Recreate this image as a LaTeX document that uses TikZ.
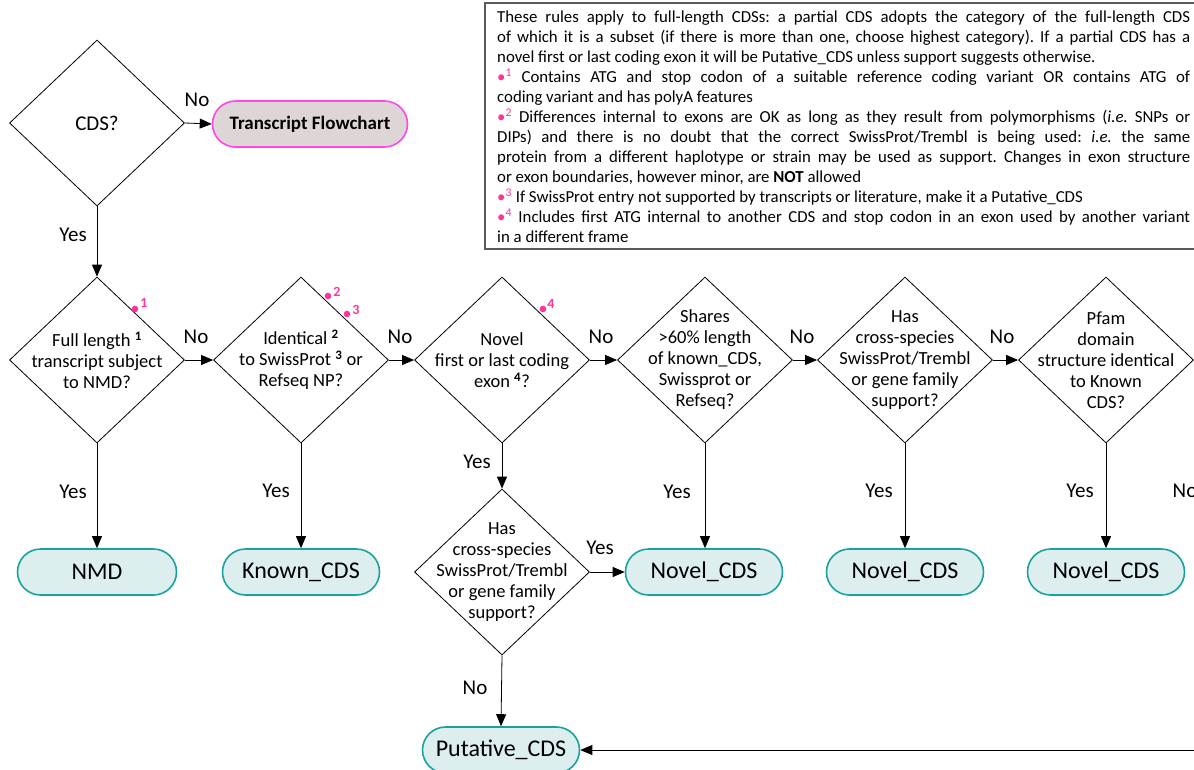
\documentclass[tikz,border=0pt]{standalone}
\usepackage{fontspec}
\setmainfont{Carlito}
\usetikzlibrary{shapes.geometric,shapes.misc,arrows.meta}

\definecolor{tealline}{RGB}{26,163,158}
\definecolor{tealfill}{RGB}{221,238,238}
\definecolor{magline}{RGB}{255,70,230}
\definecolor{greyfill}{RGB}{222,214,214}
\definecolor{hotpink}{RGB}{255,51,153}
\definecolor{boxline}{RGB}{90,90,90}

% one fully justified line of the notes
\newcommand\jline[1]{\makebox[693pt][s]{#1}}
% pink footnote marker used in the notes
\newcommand\fnmark[1]{{\color{hotpink}\textbullet\textsuperscript{#1}}}
% black superscript reference inside a decision
\newcommand\fnref[1]{\textsuperscript{\textbf{#1}}}

\begin{document}
\frenchspacing
\begin{tikzpicture}[x=1pt,y=-1pt,
  dia/.style={shape=diamond, draw=black, line width=0.8pt, minimum width=175pt,
              minimum height=166pt, inner sep=0pt},
  dtext/.style={align=center, inner sep=0pt, font=\fontsize{18.5}{21}\selectfont},
  pill/.style={rounded rectangle, draw=tealline, fill=tealfill, line width=1.6pt,
               minimum width=157pt, minimum height=46pt, inner sep=0pt,
               font=\fontsize{24}{28}\selectfont},
  tpill/.style={rounded rectangle, draw=magline, fill=greyfill, line width=1.6pt,
               minimum width=195pt, minimum height=46pt, inner sep=0pt,
               font=\fontsize{19}{22}\selectfont\bfseries},
  lbl/.style={inner sep=0pt, font=\fontsize{21}{24}\selectfont},
  arr/.style={-{Triangle[length=12pt,width=10pt]}, line width=0.8pt},
  mknum/.style={inner sep=0pt, text=hotpink, font=\fontsize{14}{16}\selectfont\bfseries},
]
\useasboundingbox (0,0) rectangle (1194,769);

% ---- notes box ----
\draw[boxline, line width=1.2pt] (485,3) rectangle (1200,249);
\node[anchor=north west, inner sep=0pt, align=left,
      font=\fontsize{16.8}{20.0}\selectfont] (notes) at (497,11) {%
\jline{These rules apply to full-length CDSs: a partial CDS adopts the category of the full-length CDS}\\
\jline{of which it is a subset (if there is more than one, choose highest category). If a partial CDS has a}\\
novel first or last coding exon it will be Putative\_CDS unless support suggests otherwise.\\
\jline{\fnmark{1} Contains ATG and stop codon of a suitable reference coding variant OR contains ATG of}\\
coding variant and has polyA features\\
\jline{\fnmark{2} Differences internal to exons are OK as long as they result from polymorphisms (\textit{i.e.} SNPs or}\\
\jline{DIPs) and there is no doubt that the correct SwissProt/Trembl is being used: \textit{i.e.} the same}\\
\jline{protein from a different haplotype or strain may be used as support. Changes in exon structure}\\
or exon boundaries, however minor, are \textbf{NOT} allowed\\
\fnmark{3} If SwissProt entry not supported by transcripts or literature, make it a Putative\_CDS\\
\jline{\fnmark{4} Includes first ATG internal to another CDS and stop codon in an exon used by another variant}\\
in a different frame};

% ---- decisions ----
\node[dia] (d0) at (97,123) {};
\node[dtext, font=\fontsize{21}{24}\selectfont] (t0) at (d0) {CDS?};

\node[dia] (d1) at (97,360) {};
\node[dtext] (t1) at (d1) {Full length \fnref{1}\\transcript subject\\to NMD?};
\node[dia] (d2) at (301,360) {};
\node[dtext] (t2) at (d2) {Identical \fnref{2}\\to SwissProt \fnref{3} or\\Refseq NP?};
\node[dia] (d3) at (502,360) {};
\node[dtext] (t3) at (d3) {Novel\\first or last coding\\exon \fnref{4}?};
\node[dia] (d4) at (705,360) {};
\node[dtext] (t4) at (d4) {Shares\\>60\% length\\of known\_CDS,\\Swissprot or\\Refseq?};
\node[dia] (d5) at (905,360) {};
\node[dtext] (t5) at (d5) {Has\\cross-species\\SwissProt/Trembl\\or gene family\\support?};
\node[dia] (d6) at (1106,360) {};
\node[dtext] (t6) at (d6) {Pfam\\domain\\structure identical\\to Known\\CDS?};
\node[dia] (s1) at (502,572) {};
\node[dtext] (ts) at (s1) {Has\\cross-species\\SwissProt/Trembl\\or gene family\\support?};

% ---- outcomes ----
\node[tpill] (tf) at (310,124) {Transcript Flowchart};
\node[pill, minimum width=159pt] (nmd) at (97,572) {NMD};
\node[pill] (known) at (301,572) {Known\_CDS};
\node[pill] (nov4) at (704,572) {Novel\_CDS};
\node[pill] (nov5) at (905,572) {Novel\_CDS};
\node[pill] (nov6) at (1106,572) {Novel\_CDS};
\node[pill] (put) at (501,750) {Putative\_CDS};

% ---- pink reference markers ----
\fill[hotpink] (135,309) circle (3.3);
\node[mknum] (m1) at (144,303) {1};
\fill[hotpink] (328,296) circle (3.3);
\node[mknum] (m2) at (337,292) {2};
\fill[hotpink] (347,314) circle (3.3);
\node[mknum] (m3) at (356,310) {3};
\fill[hotpink] (543,309) circle (3.3);
\node[mknum] (m4) at (551,304) {4};

% ---- connectors ----
\draw[arr] (d0.east) -- (tf.west);
\draw[arr] (d0.south) -- (d1.north);
\draw[arr] (d1.east) -- (d2.west);
\draw[arr] (d2.east) -- (d3.west);
\draw[arr] (d3.east) -- (d4.west);
\draw[arr] (d4.east) -- (d5.west);
\draw[arr] (d5.east) -- (d6.west);
\draw[arr] (d1.south) -- (nmd.north);
\draw[arr] (d2.south) -- (known.north);
\draw[arr] (d3.south) -- (s1.north);
\draw[arr] (d4.south) -- (d4.south |- nov4.north);
\draw[arr] (d5.south) -- (nov5.north);
\draw[arr] (d6.south) -- (nov6.north);
\draw[arr] (s1.east) -- (nov4.west);
\draw[arr] (s1.south) -- (put.north);
\draw[arr] (d6.east) -- ++(18,0) |- (put.east);

% ---- branch labels ----
\node[lbl] (l0n) at (197,100) {No};
\node[lbl] (l0y) at (73,235) {Yes};
\node[lbl] (l1n) at (196,337) {No};
\node[lbl] (l2n) at (400,337) {No};
\node[lbl] (l3n) at (601,337) {No};
\node[lbl] (l4n) at (802,337) {No};
\node[lbl] (l5n) at (1002,337) {No};
\node[lbl] (l1y) at (73,492) {Yes};
\node[lbl] (l2y) at (276,491) {Yes};
\node[lbl] (l3y) at (477,462) {Yes};
\node[lbl] (l4y) at (677,492) {Yes};
\node[lbl] (l5y) at (879,491) {Yes};
\node[lbl] (l6y) at (1080,491) {Yes};
\node[lbl] (l6n) at (1185,491) {No};
\node[lbl] (lsy) at (600,548) {Yes};
\node[lbl] (lsn) at (475,688) {No};
\end{tikzpicture}
\end{document}
